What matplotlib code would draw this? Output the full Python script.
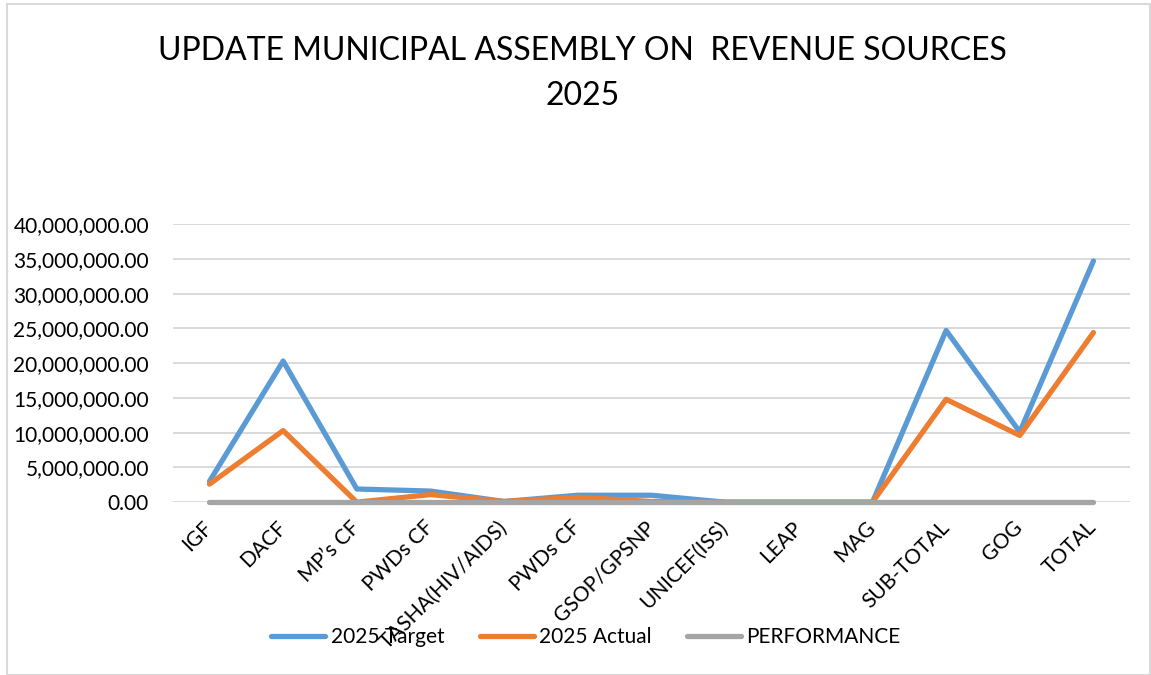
import numpy as np
import matplotlib
matplotlib.use("Agg")
from matplotlib import pyplot as plt
from matplotlib.patches import Rectangle
from matplotlib.ticker import FuncFormatter

categories = ["IGF", "DACF", "MP\u2019s CF", "PWDs CF", "TASHA(HIV/AIDS)", "PWDs CF",
              "GSOP/GPSNP", "UNICEF(ISS)", "LEAP", "MAG", "SUB-TOTAL", "GOG", "TOTAL"]
target_2025 = [3.0e6, 20.3e6, 1.9e6, 1.6e6, 0.1e6, 1.0e6, 1.0e6, 0.0, 0.0, 0.0,
               24.7e6, 10.1e6, 34.7e6]
actual_2025 = [2.6e6, 10.3e6, 0.0, 1.1e6, 0.1e6, 0.7e6, 0.1e6, 0.0, 0.0, 0.0,
               14.8e6, 9.6e6, 24.4e6]
performance = [0.0] * 13

plt.rcParams["font.family"] = ["Lato", "DejaVu Sans"]

fig = plt.figure(figsize=(11.51, 6.75), dpi=100)
ax = fig.add_axes([0.150, 0.256, 0.832, 0.412])

x = np.arange(len(categories))
ax.plot(x, target_2025, color="#5B9BD5", lw=3.8, solid_capstyle="round",
        solid_joinstyle="round", label="2025 Target", zorder=3, clip_on=False)
ax.plot(x, actual_2025, color="#ED7D31", lw=3.8, solid_capstyle="round",
        solid_joinstyle="round", label="2025 Actual", zorder=4, clip_on=False)
ax.plot(x, performance, color="#A5A5A5", lw=3.8, solid_capstyle="round",
        label="PERFORMANCE", zorder=5, clip_on=False)

ax.set_xlim(-0.5, len(categories) - 0.5)
ax.set_ylim(0, 40e6)
ax.set_yticks(np.arange(0, 40e6 + 1, 5e6))
ax.yaxis.set_major_formatter(FuncFormatter(lambda v, p: "{:,.2f}".format(v)))
ax.grid(axis="y", color="#D9D9D9", lw=1.4, zorder=0)
ax.set_axisbelow(True)
for s in ax.spines.values():
    s.set_visible(False)
ax.tick_params(axis="both", length=0, labelsize=15)
ax.tick_params(axis="y", pad=17)
ax.set_xticks(x)
ax.set_xticklabels(categories, rotation=45, ha="right", va="center",
                   rotation_mode="anchor", fontsize=15)
ax.tick_params(axis="x", pad=16)

fig.text(0.506, 0.925, "UPDATE MUNICIPAL ASSEMBLY ON  REVENUE SOURCES",
         ha="center", va="center", fontsize=23)
fig.text(0.506, 0.858, "2025", ha="center", va="center", fontsize=23)

leg = fig.legend(loc="center", bbox_to_anchor=(0.509, 0.056), ncol=3,
                 frameon=False, fontsize=15, handlelength=2.6,
                 handletextpad=0.25, columnspacing=1.7)

fig.patches.append(Rectangle((0.006, 0.0), 0.993, 0.994, transform=fig.transFigure,
                             fill=False, edgecolor="#D9D9D9", lw=1.5))

fig.savefig("out.png", dpi=100)
